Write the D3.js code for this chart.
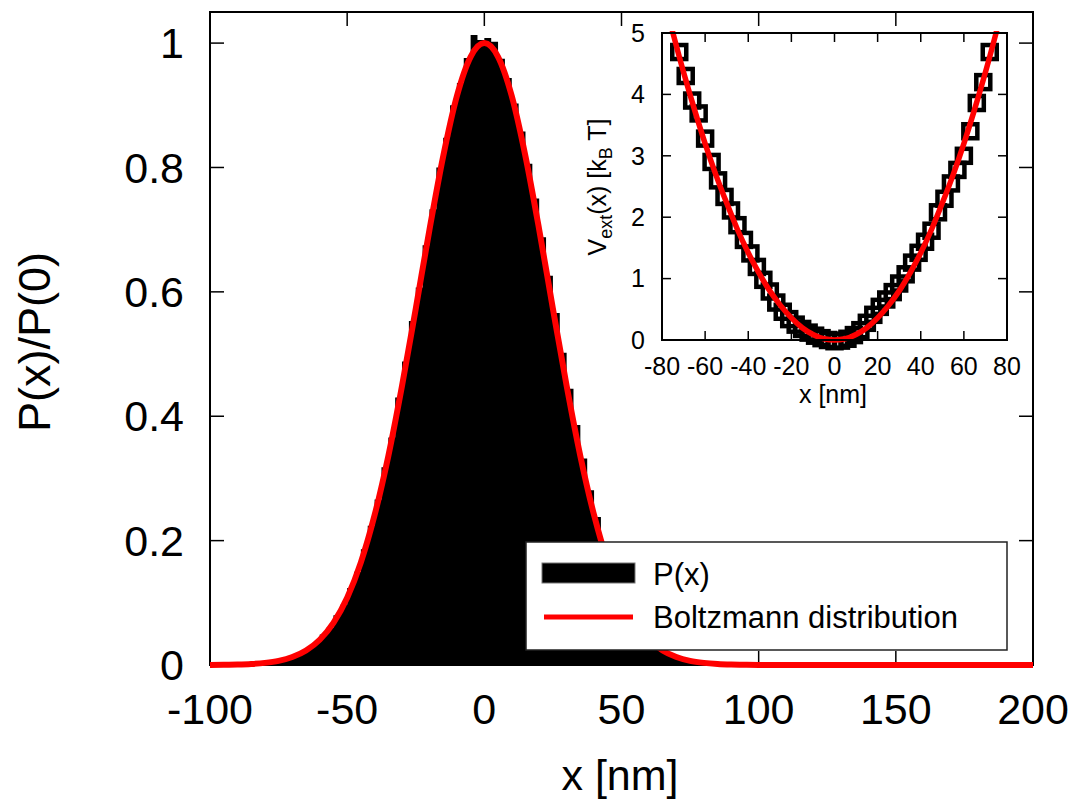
<!DOCTYPE html>
<html><head><meta charset="utf-8">
<script src="https://cdn.jsdelivr.net/npm/d3@7"></script>
<style>
body{margin:0;background:#fff}
svg{display:block}
text{font-family:'Liberation Sans',Arial,Helvetica,sans-serif;fill:#000}
</style>
</head><body>
<svg id="c" width="1080" height="801"></svg>
<script>
// ---------- data ----------
const binWidth = 2.5;
const histCenters = [-78.75,-76.25,-73.75,-71.25,-68.75,-66.25,-63.75,-61.25,-58.75,-56.25,-53.75,-51.25,-48.75,-46.25,-43.75,-41.25,-38.75,-36.25,-33.75,-31.25,-28.75,-26.25,-23.75,-21.25,-18.75,-16.25,-13.75,-11.25,-8.75,-6.25,-3.75,-1.25,1.25,3.75,6.25,8.75,11.25,13.75,16.25,18.75,21.25,23.75,26.25,28.75,31.25,33.75,36.25,38.75,41.25,43.75,46.25,48.75,51.25,53.75,56.25,58.75,61.25,63.75,66.25,68.75,71.25,73.75,76.25,78.75];
const histValues = [0.004,0.006,0.008,0.011,0.016,0.021,0.028,0.036,0.049,0.060,0.080,0.097,0.124,0.150,0.186,0.224,0.266,0.318,0.366,0.430,0.488,0.553,0.607,0.675,0.733,0.800,0.848,0.900,0.936,0.976,1.013,1.005,1.008,1.002,0.975,0.944,0.903,0.858,0.806,0.750,0.688,0.626,0.566,0.502,0.444,0.386,0.332,0.281,0.238,0.197,0.160,0.130,0.103,0.082,0.063,0.049,0.038,0.028,0.021,0.015,0.011,0.008,0.006,0.004];

const curveX = [-100,-95,-90,-85,-80,-75,-70,-65,-60,-55,-50,-45,-40,-35,-30,-25,-20,-15,-10,-5,0,5,10,15,20,25,30,35,40,45,50,55,60,65,70,75,80,85,90,95,100,125,150,175,200];
const curveY = [0.0001,0.0003,0.0007,0.0016,0.0034,0.0067,0.0128,0.0233,0.0406,0.0677,0.108,0.165,0.241,0.336,0.449,0.573,0.700,0.818,0.915,0.978,1.000,0.978,0.915,0.818,0.700,0.573,0.449,0.336,0.241,0.165,0.108,0.0677,0.0406,0.0233,0.0128,0.0067,0.0034,0.0016,0.0007,0.0003,0.0001,0,0,0,0];

const insetX = [-72,-69,-66,-63,-60,-57,-54,-51,-48,-45,-42,-39,-36,-33,-30,-27,-24,-21,-18,-15,-12,-9,-6,-3,0,3,6,9,12,15,18,21,24,27,30,33,36,39,42,45,48,51,54,57,60,63,66,69,72];
const insetV = [4.69,4.30,3.90,3.69,3.28,2.90,2.60,2.33,2.11,1.87,1.63,1.41,1.19,0.98,0.79,0.61,0.46,0.34,0.25,0.18,0.12,0.07,0.03,0.00,-0.02,-0.01,0.02,0.08,0.16,0.28,0.41,0.54,0.66,0.78,0.92,1.07,1.26,1.42,1.60,1.78,2.08,2.30,2.55,2.77,3.00,3.40,3.86,4.20,4.69];

const insetCurveX = [-77,-75,-70,-65,-60,-55,-50,-45,-40,-35,-30,-25,-20,-15,-10,-5,0,5,10,15,20,25,30,35,40,45,50,55,60,65,70,75,77];
const insetCurveV = [5.28,5.01,4.36,3.76,3.20,2.69,2.23,1.80,1.42,1.09,0.80,0.56,0.36,0.20,0.09,0.02,0.00,0.02,0.09,0.20,0.36,0.56,0.80,1.09,1.42,1.80,2.23,2.69,3.20,3.76,4.36,5.01,5.28];

const mainXTicks = [-100,-50,0,50,100,150,200];
const mainYTicks = [0,0.2,0.4,0.6,0.8,1];
const insetXTicks = [-80,-60,-40,-20,0,20,40,60,80];
const insetYTicks = [0,1,2,3,4,5];
const legendLabels = ["P(x)","Boltzmann distribution"];
const mainXLabel = "x [nm]";
const mainYLabel = "P(x)/P(0)";
const insetXLabel = "x [nm]";

// ---------- main plot ----------
const svg = d3.select("#c");
const M = {l:210, r:1033, t:12, b:665};
const x = d3.scaleLinear().domain([-100,200]).range([M.l,M.r]);
const y = d3.scaleLinear().domain([0,1.05]).range([M.b,M.t]);

// histogram as a step area
const steps = histCenters.map((c,i)=>({x:c-binWidth/2, v:histValues[i]}));
steps.push({x:histCenters[histCenters.length-1]+binWidth/2, v:histValues[histValues.length-1]});
svg.append("path")
  .attr("d", d3.area().x(d=>x(d.x)).y0(y(0)).y1(d=>y(d.v)).curve(d3.curveStepAfter)(steps))
  .attr("fill","#000");

// box
svg.append("rect").attr("x",M.l).attr("y",M.t).attr("width",M.r-M.l).attr("height",M.b-M.t)
  .attr("fill","none").attr("stroke","#000").attr("stroke-width",2);

// ticks
const tl = 14;
const tg = svg.append("g").attr("stroke","#000").attr("stroke-width",1.5);
mainXTicks.forEach(t=>{
  tg.append("line").attr("x1",x(t)).attr("x2",x(t)).attr("y1",M.b).attr("y2",M.b-tl);
  tg.append("line").attr("x1",x(t)).attr("x2",x(t)).attr("y1",M.t).attr("y2",M.t+tl);
});
mainYTicks.forEach(t=>{
  tg.append("line").attr("x1",M.l).attr("x2",M.l+tl).attr("y1",y(t)).attr("y2",y(t));
  tg.append("line").attr("x1",M.r).attr("x2",M.r-tl).attr("y1",y(t)).attr("y2",y(t));
});

// Boltzmann curve
svg.append("path")
  .attr("d", d3.line().x((d,i)=>x(curveX[i])).y(d=>y(d)).curve(d3.curveMonotoneX)(curveY))
  .attr("fill","none").attr("stroke","#ff0000").attr("stroke-width",6).attr("stroke-linejoin","round");

// tick labels
svg.append("g").selectAll("text").data(mainXTicks).join("text")
  .attr("x",d=>x(d)).attr("y",724).attr("text-anchor","middle").attr("font-size",43).text(d=>String(d));
svg.append("g").selectAll("text").data(mainYTicks).join("text")
  .attr("x",184).attr("y",d=>y(d)).attr("dy","0.35em").attr("text-anchor","end").attr("font-size",43).text(d=>String(d));

svg.append("text").attr("x",620).attr("y",790).attr("text-anchor","middle").attr("font-size",43).text(mainXLabel);
svg.append("text").attr("transform","translate(50,342) rotate(-90)").attr("text-anchor","middle").attr("font-size",45).text(mainYLabel);

// legend
const lg = svg.append("g");
lg.append("rect").attr("x",526).attr("y",542).attr("width",481).attr("height",108)
  .attr("fill","#fff").attr("stroke","#222").attr("stroke-width",1.5);
lg.append("rect").attr("x",542).attr("y",563).attr("width",93).attr("height",20)
  .attr("fill","#000").attr("stroke","#777").attr("stroke-width",1);
lg.append("line").attr("x1",544).attr("x2",633).attr("y1",617).attr("y2",617)
  .attr("stroke","#ff0000").attr("stroke-width",5);
lg.append("text").attr("x",653).attr("y",585).attr("font-size",31).text(legendLabels[0]);
lg.append("text").attr("x",653).attr("y",628).attr("font-size",31).text(legendLabels[1]);

// ---------- inset ----------
const I = {l:662, r:1007, t:33, b:340};
const ix = d3.scaleLinear().domain([-80,80]).range([I.l,I.r]);
const iy = d3.scaleLinear().domain([0,5]).range([I.b,I.t]);

svg.append("rect").attr("x",I.l).attr("y",I.t).attr("width",I.r-I.l).attr("height",I.b-I.t).attr("fill","#fff");

const itl = 9;
const itg = svg.append("g").attr("stroke","#000").attr("stroke-width",1.5);
insetXTicks.forEach(t=>{
  itg.append("line").attr("x1",ix(t)).attr("x2",ix(t)).attr("y1",I.b).attr("y2",I.b-itl);
  itg.append("line").attr("x1",ix(t)).attr("x2",ix(t)).attr("y1",I.t).attr("y2",I.t+itl);
});
insetYTicks.forEach(t=>{
  itg.append("line").attr("x1",I.l).attr("x2",I.l+itl).attr("y1",iy(t)).attr("y2",iy(t));
  itg.append("line").attr("x1",I.r).attr("x2",I.r-itl).attr("y1",iy(t)).attr("y2",iy(t));
});

svg.append("defs").append("clipPath").attr("id","ic").append("rect")
  .attr("x",I.l).attr("y",I.t-2).attr("width",I.r-I.l).attr("height",I.b-I.t+20);

// squares
const sq = 14;
svg.append("g").selectAll("rect").data(insetV).join("rect")
  .attr("x",(d,i)=>ix(insetX[i])-sq/2).attr("y",d=>iy(d)-sq/2)
  .attr("width",sq).attr("height",sq)
  .attr("fill","none").attr("stroke","#000").attr("stroke-width",4.5);

// inset curve
svg.append("path").attr("clip-path","url(#ic)")
  .attr("d", d3.line().x((d,i)=>ix(insetCurveX[i])).y(d=>iy(d)).curve(d3.curveMonotoneX)(insetCurveV))
  .attr("fill","none").attr("stroke","#ff0000").attr("stroke-width",5.5);

svg.append("rect").attr("x",I.l).attr("y",I.t).attr("width",I.r-I.l).attr("height",I.b-I.t)
  .attr("fill","none").attr("stroke","#000").attr("stroke-width",2);

svg.append("g").selectAll("text").data(insetXTicks).join("text")
  .attr("x",d=>ix(d)).attr("y",375).attr("text-anchor","middle").attr("font-size",25).text(d=>String(d));
svg.append("g").selectAll("text").data(insetYTicks).join("text")
  .attr("x",645).attr("y",d=>iy(d)).attr("dy","0.35em").attr("text-anchor","end").attr("font-size",25).text(d=>String(d));

svg.append("text").attr("x",833).attr("y",403).attr("text-anchor","middle").attr("font-size",25).text(insetXLabel);

const yl = svg.append("text").attr("transform","translate(606,187) rotate(-90)").attr("text-anchor","middle").attr("font-size",25);
yl.append("tspan").text("V");
yl.append("tspan").attr("font-size",18).attr("dy",6).text("ext");
yl.append("tspan").attr("dy",-6).text("(x) [k");
yl.append("tspan").attr("font-size",18).attr("dy",6).text("B");
yl.append("tspan").attr("dy",-6).text(" T]");
</script>
</body></html>
